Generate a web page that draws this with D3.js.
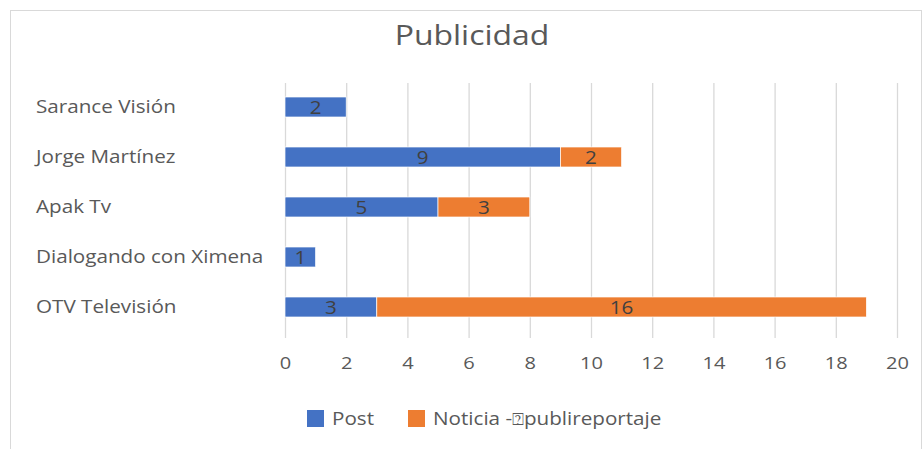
<!DOCTYPE html>
<html>
<head>
<meta charset="utf-8">
<script src="https://cdn.jsdelivr.net/npm/d3@7"></script>
<style>
  body { margin: 0; background: #fff; }
  svg text { font-family: "Open Sans", "Noto Sans", sans-serif; }
</style>
</head>
<body>
<svg id="chart" width="922" height="449"></svg>
<script>
// data
var categories = ["Sarance Visión", "Jorge Martínez", "Apak Tv", "Dialogando con Ximena", "OTV Televisión"];
var postValues = [2, 9, 5, 1, 3];
var noticiaValues = [0, 2, 3, 0, 16];
var seriesNames = ["Post", "Noticia -\u2370publireportaje"];
var seriesColors = ["#4472c4", "#ed7d31"];
var xTicks = [0, 2, 4, 6, 8, 10, 12, 14, 16, 18, 20];

var svg = d3.select("#chart");
var W = 922, H = 449;
var sx = 1.18; // the picture is a bit wide, text is stretched sideways

// chart frame
svg.append("rect").attr("x", 10.5).attr("y", 10.5).attr("width", W - 11).attr("height", H - 10)
  .attr("fill", "#fff").attr("stroke", "#d9d9d9");

svg.append("text").attr("transform", "translate(472,45) scale(1.14,1)").attr("text-anchor", "middle")
  .attr("font-size", 28).attr("fill", "#595959").text("Publicidad");

var x = d3.scaleLinear().domain([0, 20]).range([285, 897]);
var y = d3.scaleBand().domain(categories).range([82, 332]).paddingInner(0.6).paddingOuter(0.3);

// gridlines
svg.append("g").selectAll("line").data(xTicks).enter().append("line")
  .attr("x1", function (d) { return x(d) + 0.5; }).attr("x2", function (d) { return x(d) + 0.5; })
  .attr("y1", 83).attr("y2", 338).attr("stroke", "#d9d9d9").attr("stroke-width", 1.3);

// x axis labels
var xAxis = d3.axisBottom(x).tickValues(xTicks).tickSize(0).tickPadding(0);
var gx = svg.append("g").attr("transform", "translate(0,369)").call(xAxis);
gx.select(".domain").remove();
gx.selectAll("text").attr("y", 0).attr("dy", 0).attr("font-size", 17).attr("fill", "#595959")
  .attr("transform", "scale(" + sx + ",1)")
  .style("font-family", '"Open Sans", "Noto Sans", sans-serif');

// category labels
svg.append("g").selectAll("text").data(categories).enter().append("text")
  .attr("transform", function (d) { return "translate(36," + (y(d) + y.bandwidth() / 2) + ") scale(" + sx + ",1)"; })
  .attr("dy", "0.36em").attr("font-size", 17.5).attr("fill", "#595959").text(function (d) { return d; });

// stacked bars
var rows = categories.map(function (c, i) { return { cat: c, post: postValues[i], noticia: noticiaValues[i] }; });
var stack = d3.stack().keys(["post", "noticia"])(rows);

stack.forEach(function (layer, li) {
  var g = svg.append("g");
  var segs = layer.filter(function (d) { return d[1] - d[0] > 0; });
  g.selectAll("rect").data(segs).enter().append("rect")
    .attr("x", function (d) { return x(d[0]); })
    .attr("y", function (d) { return y(d.data.cat); })
    .attr("width", function (d) { return x(d[1]) - x(d[0]); })
    .attr("height", y.bandwidth())
    .attr("fill", seriesColors[li])
    .attr("stroke", "#fff").attr("stroke-width", 0.7);
  g.selectAll("text").data(segs).enter().append("text")
    .attr("transform", function (d) {
      return "translate(" + ((x(d[0]) + x(d[1])) / 2) + "," + (y(d.data.cat) + y.bandwidth() / 2) + ") scale(" + sx + ",1)";
    })
    .attr("dy", "0.4em").attr("text-anchor", "middle").attr("font-size", 17.5).attr("fill", "#404040")
    .text(function (d) { return d[1] - d[0]; });
});

// legend
var legendX = [307, 408];
var lg = svg.append("g").selectAll("g").data(seriesNames).enter().append("g")
  .attr("transform", function (d, i) { return "translate(" + legendX[i] + ",410)"; });
lg.append("rect").attr("width", 17).attr("height", 17).attr("fill", function (d, i) { return seriesColors[i]; });
lg.append("text").attr("transform", "translate(25,15) scale(" + sx + ",1)").attr("font-size", 17.5).attr("fill", "#595959")
  .text(function (d) { return d; });
</script>
</body>
</html>
